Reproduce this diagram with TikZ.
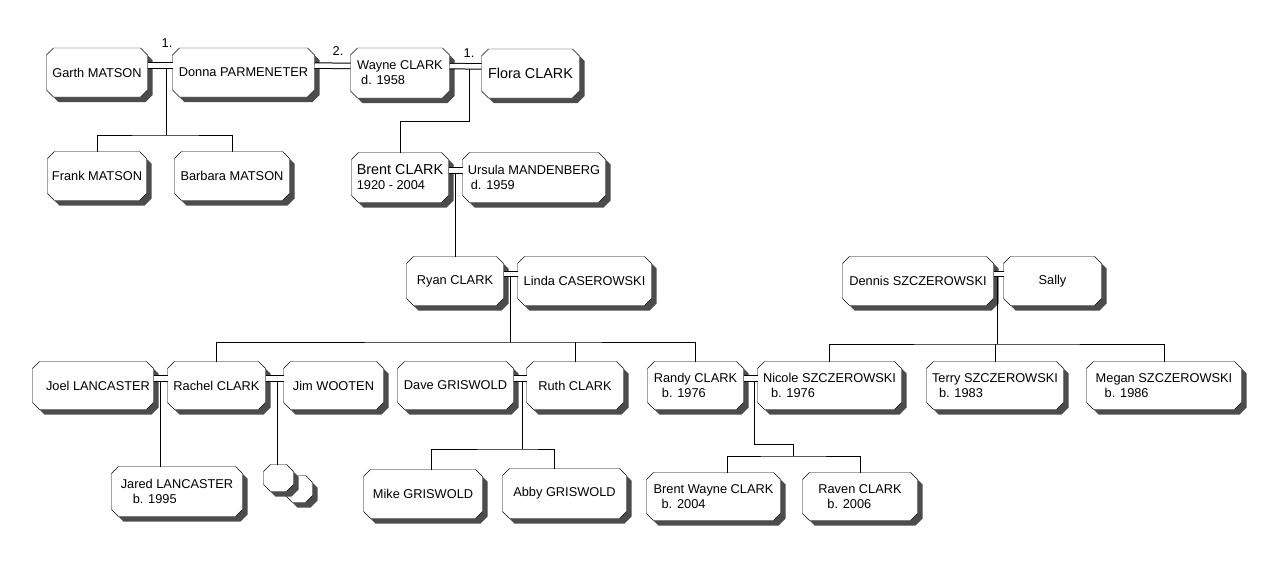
\documentclass[tikz,border=0pt]{standalone}
\usepackage{fontspec}
\setmainfont{Liberation Sans}
\usetikzlibrary{backgrounds}
\newcommand\octpath[1]{([xshift=7pt]#1.north west) -- ([xshift=-7pt]#1.north east) -- ([yshift=-7pt]#1.north east) -- ([yshift=7pt]#1.south east) -- ([xshift=-7pt]#1.south east) -- ([xshift=7pt]#1.south west) -- ([yshift=7pt]#1.south west) -- ([yshift=-7pt]#1.north west) -- cycle}
\begin{document}
\begin{tikzpicture}[x=1pt,y=-1pt,line width=1pt,
		person/.style={rectangle,inner sep=0pt,minimum height=48pt,align=left,
			font=\fontsize{12.8}{15}\selectfont},
		married/.style={double,double distance=4.5pt},
		big/.style={font=\fontsize{14.4}{16}\selectfont},
		num/.style={inner sep=0pt,font=\fontsize{12.8}{15}\selectfont}]
		\useasboundingbox (0,0) rectangle (1288,563);
		\node[person,minimum width=100pt] (garth) at (97,72.5) {Garth MATSON};
		\node[person,minimum width=141pt] (donna) at (243.5,72.5) {Donna PARMENETER};
		\node[person,minimum width=98pt,minimum height=49pt] (wayne) at (400,73) {Wayne CLARK\\\hspace*{4pt}d. 1958};
		\node[person,minimum width=97pt,big] (flora) at (530.5,73.5) {Flora CLARK};
		\node[person,minimum width=98pt] (frank) at (97,176) {Frank MATSON};
		\node[person,minimum width=114pt] (barbara) at (232,176) {Barbara MATSON};
		\node[person,minimum width=96pt,minimum height=49pt] (brent) at (400,177.5) {{\fontsize{14.4}{16}\selectfont Brent CLARK}\\1920 - 2004};
		\node[person,minimum width=142pt,minimum height=49pt] (ursula) at (534,177.5) {Ursula MANDENBERG\\\hspace*{3pt}d. 1959};
		\node[person,minimum width=96pt] (ryan) at (455,281) {Ryan CLARK};
		\node[person,minimum width=133pt] (linda) at (584.5,281) {Linda CASEROWSKI};
		\node[person,minimum width=150pt] (dennis) at (918,281) {Dennis SZCZEROWSKI};
		\node[person,minimum width=97pt] (sally) at (1052.5,281) {Sally};
		\node[person,minimum width=120pt,minimum height=47pt] (joel) at (93,385.5) {\hspace*{10pt}Joel LANCASTER};
		\node[person,minimum width=97pt,minimum height=47pt] (rachel) at (216.5,385.5) {Rachel CLARK};
		\node[person,minimum width=99pt,minimum height=47pt] (jim) at (333.5,385.5) {Jim WOOTEN};
		\node[person,minimum width=115pt,minimum height=47pt] (dave) at (455.5,385.5) {Dave GRISWOLD};
		\node[person,minimum width=96pt,minimum height=47pt] (ruth) at (575,385.5) {Ruth CLARK};
		\node[person,minimum width=95pt,minimum height=47pt] (randy) at (695.5,385.5) {Randy CLARK\\\hspace*{8pt}b. 1976};
		\node[person,minimum width=143pt,minimum height=47pt] (nicole) at (829.5,385.5) {Nicole SZCZEROWSKI\\\hspace*{8pt}b. 1976};
		\node[person,minimum width=136pt,minimum height=47pt] (terry) at (995,385.5) {Terry SZCZEROWSKI\\\hspace*{7pt}b. 1983};
		\node[person,minimum width=154pt,minimum height=47pt] (megan) at (1164,385.5) {Megan SZCZEROWSKI\\\hspace*{9pt}b. 1986};
		\node[person,minimum width=130pt,minimum height=49pt] (jared) at (177,491.5) {Jared LANCASTER\\\hspace*{12pt}b. 1995};
		\node[person,minimum width=26pt,minimum height=26pt] (small2) at (299,489) {};
		\node[person,minimum width=29pt,minimum height=26pt] (small1) at (278.5,478) {};
		\node[person,minimum width=118pt] (mike) at (423,494) {Mike GRISWOLD};
		\node[person,minimum width=123pt,minimum height=49pt] (abby) at (564.5,493.5) {Abby GRISWOLD};
		\node[person,minimum width=133pt,minimum height=47pt] (bwayne) at (713.5,496.5) {Brent Wayne CLARK\\\hspace*{8pt}b. 2004};
		\node[person,minimum width=114pt,minimum height=47pt] (raven) at (860,496.5) {Raven CLARK\\\hspace*{9pt}b. 2006};
		\begin{scope}[on background layer]
			\foreach \n in {garth,donna,wayne,flora,frank,barbara,brent,ursula,ryan,linda,dennis,sally,
				joel,rachel,jim,dave,ruth,randy,nicole,terry,megan,jared,small2,small1,mike,abby,bwayne,raven}{
				\fill[black!70,transform canvas={xshift=5pt,yshift=-5pt}] \octpath{\n};
				\filldraw[fill=white] \octpath{\n};
			}
		\end{scope}
		\node[num] (n1) at (167,43) {1.};
		\node[num] (n2) at (338,51) {2.};
		\node[num] (n3) at (469,53) {1.};
		\coordinate (gd) at (166,68);
		\coordinate (gdbus) at (166,135);
		\coordinate (wf) at (469,68.5);
		\coordinate (wfbus) at (469,121);
		\coordinate (bu) at (455,173);
		\coordinate (rl) at (510,276.5);
		\coordinate (rlbus) at (510,342);
		\coordinate (ds) at (997,276.5);
		\coordinate (dsbus) at (997,344);
		\coordinate (jr) at (160,381);
		\coordinate (rj) at (277,381);
		\coordinate (dr) at (522,381);
		\coordinate (drbus) at (522,449);
		\coordinate (rn) at (754,381);
		\coordinate (rnbend) at (793,444);
		\coordinate (rnbus) at (793,456);
		\draw[married] ([yshift=7pt]garth.east) -- ([yshift=7pt]donna.west);
		\draw[married] ([yshift=7pt]donna.east) -- ([yshift=7pt]wayne.west);
		\draw[married] ([yshift=7pt]wayne.east) -- ([yshift=7pt]flora.west);
		\draw[married] ([yshift=7pt]brent.east) -- ([yshift=7pt]ursula.west);
		\draw[married] ([yshift=7pt]ryan.east) -- ([yshift=7pt]linda.west);
		\draw[married] ([yshift=7pt]dennis.east) -- ([yshift=7pt]sally.west);
		\draw[married] ([yshift=7pt]joel.east) -- ([yshift=7pt]rachel.west);
		\draw[married] ([yshift=7pt]rachel.east) -- ([yshift=7pt]jim.west);
		\draw[married] ([yshift=7pt]dave.east) -- ([yshift=7pt]ruth.west);
		\draw[married] ([yshift=7pt]randy.east) -- ([yshift=7pt]nicole.west);
		\draw (gd) -- (gdbus);
		\draw (frank.north) |- (gdbus) -| (barbara.north);
		\draw (wf) -- (wfbus) -| (brent.north);
		\draw (bu) -- (bu |- ryan.north);
		\draw (rl) -- (rlbus);
		\draw (rachel.north) |- (rlbus) -| (randy.north);
		\draw (ruth.north) -- (ruth.north |- rlbus);
		\draw (ds) -- (dsbus);
		\draw (nicole.north) |- (dsbus) -| (megan.north);
		\draw (terry.north) -- (terry.north |- dsbus);
		\draw (jr) -- (jr |- jared.north);
		\draw (rj) -- (rj |- small1.north);
		\draw (dr) -- (drbus);
		\draw ([xshift=8pt]mike.north) |- (drbus) -| ([xshift=-10.5pt]abby.north);
		\draw (rn) |- (rnbend) -- (rnbus);
		\draw ([xshift=13.5pt]bwayne.north) |- (rnbus) -| (raven.north);
\end{tikzpicture}
\end{document}
